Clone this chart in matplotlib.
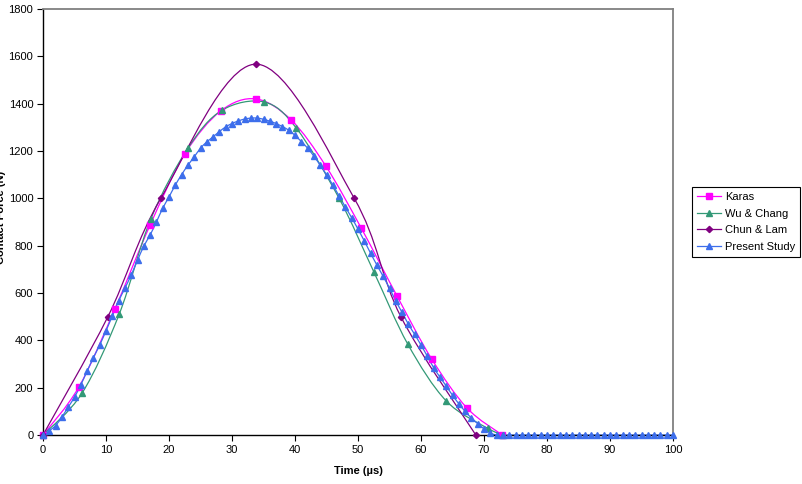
import numpy as np
import matplotlib.pyplot as plt
from matplotlib.path import Path
from matplotlib.patches import PathPatch
from matplotlib.lines import Line2D

plt.rcParams["font.family"] = ["Liberation Sans", "DejaVu Sans"]

# values
karas_t = [0, 5.7, 11.4, 17.0, 22.5, 28.2, 33.8, 39.4, 44.9, 50.5, 56.2, 61.7, 67.3, 72.9]
karas_f = [0, 203, 532, 887, 1187, 1369, 1420, 1331, 1136, 875, 587, 321, 114, 0]

wu_t = [0, 6.2, 12.1, 17.1, 23.0, 28.4, 35.1, 40.2, 47.0, 52.5, 57.9, 64.0, 70.6, 73.0]
wu_f = [0, 177, 511, 912, 1212, 1372, 1407, 1297, 1000, 690, 384, 144, 28, 0]

chun_t = [0, 10.3, 18.7, 33.8, 49.4, 56.8, 68.7]
chun_f = [0, 500, 1000, 1567, 1000, 500, 0]

present_t = list(range(0, 101))
present_f = [
    0, 18, 40, 76, 118, 160, 212, 270, 327, 380,
    440, 503, 566, 620, 676, 738, 798, 845, 900, 958,
    1006, 1056, 1100, 1140, 1175, 1212, 1238, 1260, 1282, 1302,
    1316, 1327, 1335, 1339, 1339, 1334, 1326, 1316, 1303, 1288,
    1266, 1240, 1212, 1178, 1140, 1100, 1056, 1010, 963, 918,
    870, 820, 768, 718, 670, 620, 566, 518, 468, 425,
    380, 333, 285, 245, 207, 168, 132, 100, 72, 48,
    26, 8, 0,
] + [0] * 28

series = [
    ("Karas", karas_t, karas_f, "#FF00FF", "s", 5.0),
    ("Wu & Chang", wu_t, wu_f, "#339977", "^", 4.5),
    ("Chun & Lam", chun_t, chun_f, "#800080", "D", 3.2),
    ("Present Study", present_t, present_f, "#3D6EEB", "^", 5.0),
]

# pixels per data unit on each axis, so smoothing works in screen space
PX_SCALE = np.array([630 / 100, 426 / 1800])


def smooth_path(t, f):
    """Excel-like smoothed line: cubic Bezier segments through the points."""
    p = np.column_stack([t, f]).astype(float) * PX_SCALE
    ext = np.vstack([p[0], p, p[-1]])
    verts = [p[0]]
    codes = [Path.MOVETO]
    for i in range(len(p) - 1):
        a, b, c, d = ext[i], ext[i + 1], ext[i + 2], ext[i + 3]
        half = np.hypot(*(c - b)) / 2.0
        o1 = (c - a) / 6.0
        o2 = (d - b) / 6.0
        # keep control handles within half of the segment
        for o in (o1, o2):
            n = np.hypot(*o)
            if n > half > 0:
                o *= half / n
        verts += [b + o1, c - o2, c]
        codes += [Path.CURVE4] * 3
    return Path(np.array(verts) / PX_SCALE, codes)


fig = plt.figure(figsize=(8.02, 4.84), dpi=100)
ax = fig.add_axes([43 / 802, 49 / 484, 630 / 802, 426 / 484])

handles = []
for name, t, f, color, marker, ms in series:
    ax.add_patch(PathPatch(smooth_path(t, f), fill=False, edgecolor=color, lw=0.9))
    ax.plot(t, f, linestyle="none", marker=marker, markersize=ms, color=color,
            markeredgecolor=color, clip_on=False, zorder=3)
    handles.append(Line2D([], [], color=color, lw=0.9, marker=marker,
                          markersize=ms, markeredgecolor=color))

ax.set_xlim(0, 100)
ax.set_ylim(0, 1800)
ax.set_xticks(np.arange(0, 101, 10))
ax.set_yticks(np.arange(0, 1801, 200))
ax.tick_params(direction="out", length=4, width=0.8, labelsize=8, pad=3)

for side in ("top", "right"):
    ax.spines[side].set_color("#808080")
    ax.spines[side].set_linewidth(1.3)
for side in ("left", "bottom"):
    ax.spines[side].set_color("black")
    ax.spines[side].set_linewidth(1.0)

fig.text(358 / 802, 1 - 471 / 484, "Time (µs)", ha="center", va="center",
         fontsize=8, fontweight="bold")
fig.text(6 / 802, 1 - 217 / 484, "Contact Force (N)", ha="right", va="center",
         rotation=90, fontsize=8, fontweight="bold")

leg = fig.legend(handles, [s[0] for s in series], loc="upper left",
                 bbox_to_anchor=(692 / 802, 1 - 187 / 484),
                 bbox_transform=fig.transFigure, fontsize=8, frameon=True,
                 fancybox=False, framealpha=1, edgecolor="black",
                 handlelength=2.2, handletextpad=0.3, labelspacing=0.6,
                 borderpad=0.45, borderaxespad=0)
leg.get_frame().set_linewidth(0.8)

fig.savefig("out.png", dpi=100)
